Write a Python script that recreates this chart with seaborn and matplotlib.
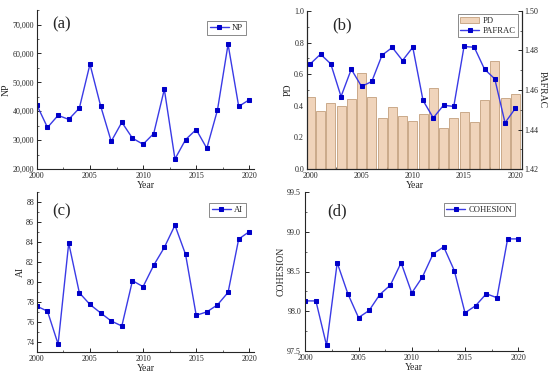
import numpy as np
import pandas as pd
import matplotlib
matplotlib.use("Agg")
import matplotlib.pyplot as plt
from matplotlib.ticker import FuncFormatter, MultipleLocator
import seaborn as sns

years = list(range(2000, 2021))

np_vals = [42200, 34400, 38600, 37200, 41100, 56300, 41900, 29600, 36200, 30700,
           28600, 32300, 47600, 23500, 30200, 33700, 27200, 40400, 63200, 41700, 44000]
pd_vals = [0.455, 0.370, 0.417, 0.400, 0.442, 0.606, 0.455, 0.322, 0.392, 0.333,
           0.307, 0.347, 0.512, 0.257, 0.326, 0.364, 0.295, 0.436, 0.682, 0.450, 0.474]
pafrac_vals = [1.4732, 1.4781, 1.4732, 1.4567, 1.4705, 1.4618, 1.4643, 1.4776, 1.4815, 1.4749,
               1.4816, 1.4547, 1.4459, 1.4523, 1.4517, 1.4820, 1.4816, 1.4705, 1.4656, 1.4434, 1.4507]
ai_vals = [77.59, 77.09, 73.80, 83.90, 78.93, 77.76, 76.92, 76.11, 75.61, 80.14,
           79.54, 81.68, 83.46, 85.68, 82.76, 76.68, 77.02, 77.72, 78.97, 84.30, 85.04]
cohesion_vals = [98.13, 98.13, 97.57, 98.61, 98.22, 97.92, 98.01, 98.21, 98.33, 98.61,
                 98.23, 98.43, 98.72, 98.81, 98.51, 97.98, 98.07, 98.22, 98.17, 98.91, 98.91]

df = pd.DataFrame({"Year": years, "NP": np_vals, "PD": pd_vals, "PAFRAC": pafrac_vals,
                   "AI": ai_vals, "COHESION": cohesion_vals})

sns.set_style("ticks")
plt.rcParams['font.family'] = ['Liberation Serif', 'DejaVu Serif']
plt.rcParams['axes.linewidth'] = 0.8

LINE = "#3a3ae6"
MARK = "#0000c8"
TICK_FS = 5.8
LAB_FS = 7


def style_axis(ax):
    ax.tick_params(axis='both', which='major', direction='in', length=3, width=0.7,
                   labelsize=TICK_FS, pad=2)
    ax.tick_params(axis='both', which='minor', direction='in', length=1.5, width=0.5)
    ax.xaxis.set_major_locator(MultipleLocator(5))
    ax.xaxis.set_minor_locator(MultipleLocator(2.5))
    ax.set_xlabel("Year", fontsize=LAB_FS, labelpad=1)


def line(ax, col, label):
    sns.lineplot(data=df, x="Year", y=col, ax=ax, color=LINE, lw=1.0, marker='s',
                 markersize=3.2, markerfacecolor=MARK, markeredgecolor=MARK, label=label)


def legend(ax, handles=None, labels=None, loc='upper right', bbox=None):
    kw = dict(loc=loc, fontsize=6.2, frameon=True, fancybox=False, edgecolor='#555555',
              handlelength=2.2, borderpad=0.3, handletextpad=0.4, borderaxespad=0.2,
              labelspacing=0.2)
    if bbox is not None:
        kw['bbox_to_anchor'] = bbox
    if handles is None:
        leg = ax.legend(**kw)
    else:
        leg = ax.legend(handles, labels, **kw)
    leg.get_frame().set_linewidth(0.6)


fig = plt.figure(figsize=(5.5, 3.75), dpi=100)

# (a) NP
ax_a = fig.add_axes([0.067, 0.549, 0.395, 0.424])
line(ax_a, "NP", "NP")
style_axis(ax_a)
ax_a.set_xlim(2000, 2020.45)
ax_a.set_ylim(20000, 75000)
ax_a.yaxis.set_major_locator(MultipleLocator(10000))
ax_a.yaxis.set_minor_locator(MultipleLocator(5000))
ax_a.yaxis.set_major_formatter(FuncFormatter(lambda v, p: f"{int(v):,}"))
ax_a.set_ylabel("NP", fontsize=LAB_FS, labelpad=1)
sns.despine(ax=ax_a)
ax_a.text(0.07, 0.91, "(a)", transform=ax_a.transAxes, fontsize=12, va='center')
legend(ax_a, bbox=(0.97, 0.94))

# (b) PD + PAFRAC
ax_b = fig.add_axes([0.558, 0.549, 0.391, 0.422])
sns.barplot(data=df, x="Year", y="PD", ax=ax_b, native_scale=True, width=0.88,
            color="#f9d4b2", edgecolor="#b9906a", linewidth=0.5, label="PD")
style_axis(ax_b)
ax_b.set_xlim(1999.67, 2020.65)
ax_b.set_ylim(0, 1.0)
ax_b.yaxis.set_major_locator(MultipleLocator(0.2))
ax_b.yaxis.set_minor_locator(MultipleLocator(0.1))
ax_b.yaxis.set_major_formatter(FuncFormatter(lambda v, p: f"{v:.1f}"))
ax_b.set_ylabel("PD", fontsize=LAB_FS, labelpad=1)
ax_b2 = ax_b.twinx()
line(ax_b2, "PAFRAC", "PAFRAC")
ax_b2.set_ylim(1.42, 1.50)
ax_b2.yaxis.set_major_locator(MultipleLocator(0.02))
ax_b2.yaxis.set_minor_locator(MultipleLocator(0.01))
ax_b2.yaxis.set_major_formatter(FuncFormatter(lambda v, p: f"{v:.2f}"))
ax_b2.tick_params(axis='y', which='major', direction='in', length=3, width=0.7,
                  labelsize=TICK_FS, pad=2)
ax_b2.tick_params(axis='y', which='minor', direction='in', length=1.5, width=0.5)
ax_b2.set_ylabel("PAFRAC", fontsize=LAB_FS, rotation=270, labelpad=6)
ax_b2.spines['top'].set_visible(False)
ax_b.spines['top'].set_visible(False)
ax_b2.get_legend().remove()
h1, l1 = ax_b.get_legend_handles_labels()
h2, l2 = ax_b2.get_legend_handles_labels()
if ax_b.get_legend() is not None:
    ax_b.get_legend().remove()
legend(ax_b2, h1 + h2, l1 + l2, bbox=(0.99, 0.99))
ax_b.text(0.12, 0.91, "(b)", transform=ax_b.transAxes, fontsize=12, va='center')

# (c) AI
ax_c = fig.add_axes([0.067, 0.061, 0.395, 0.427])
line(ax_c, "AI", "AI")
style_axis(ax_c)
ax_c.set_xlim(2000, 2020.45)
ax_c.set_ylim(73, 89)
ax_c.yaxis.set_major_locator(MultipleLocator(2))
ax_c.yaxis.set_minor_locator(MultipleLocator(1))
ax_c.set_ylabel("AI", fontsize=LAB_FS, labelpad=1)
sns.despine(ax=ax_c)
ax_c.text(0.07, 0.88, "(c)", transform=ax_c.transAxes, fontsize=12, va='center')
legend(ax_c, bbox=(0.97, 0.94))

# (d) COHESION
ax_d = fig.add_axes([0.555, 0.064, 0.396, 0.424])
line(ax_d, "COHESION", "COHESION")
style_axis(ax_d)
ax_d.tick_params(axis='y', which='major', pad=3)
ax_d.set_xlim(2000, 2020.45)
ax_d.set_ylim(97.5, 99.5)
ax_d.yaxis.set_major_locator(MultipleLocator(0.5))
ax_d.yaxis.set_minor_locator(MultipleLocator(0.25))
ax_d.yaxis.set_major_formatter(FuncFormatter(lambda v, p: f"{v:.1f}"))
ax_d.set_ylabel("COHESION", fontsize=LAB_FS, labelpad=1)
sns.despine(ax=ax_d)
ax_d.text(0.1, 0.88, "(d)", transform=ax_d.transAxes, fontsize=12, va='center')
legend(ax_d, bbox=(0.97, 0.94))

fig.savefig("out.png", dpi=100, facecolor="white")
